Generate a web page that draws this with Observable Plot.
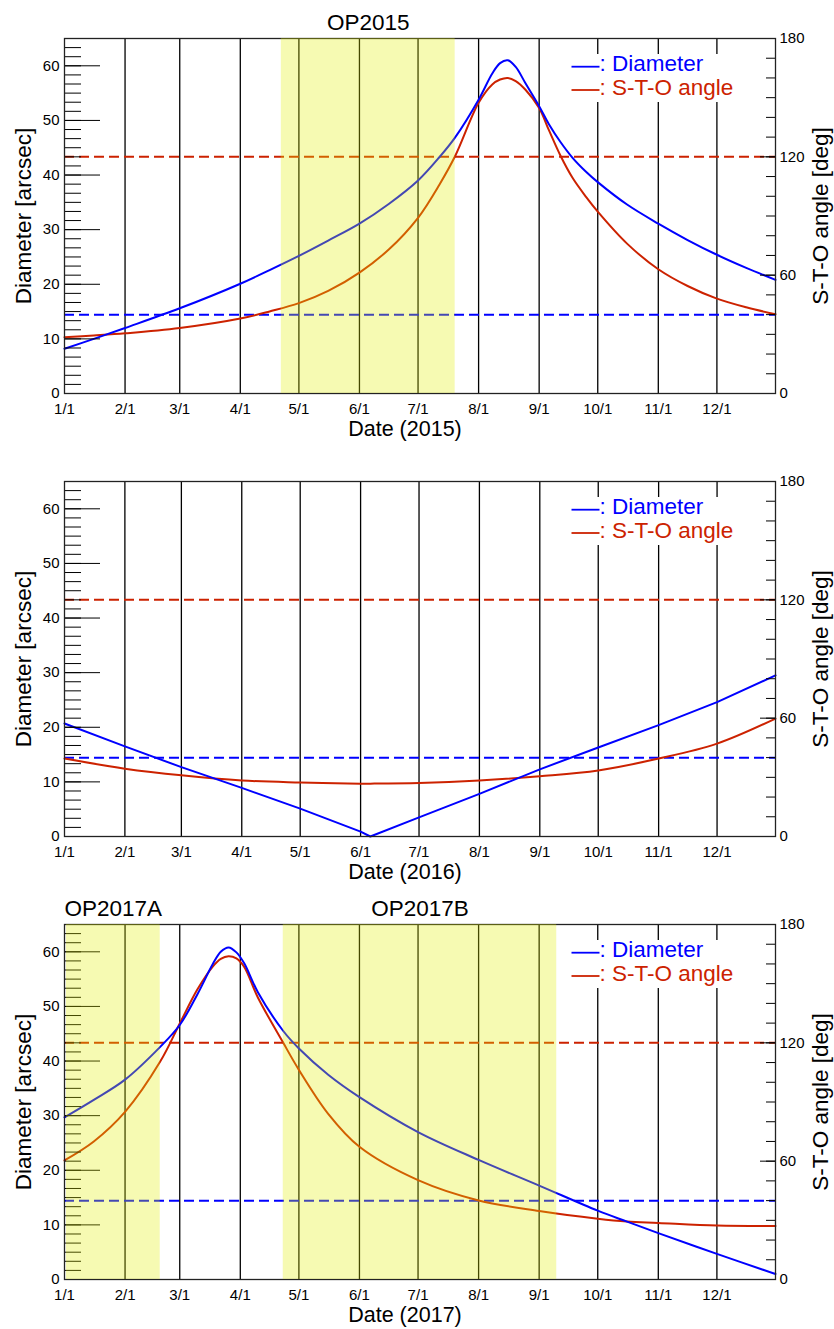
<!DOCTYPE html>
<html>
<head>
<meta charset="utf-8">
<script src="https://cdn.jsdelivr.net/npm/d3@7"></script>
<script src="https://cdn.jsdelivr.net/npm/@observablehq/plot@0.6"></script>
<style>
  body { margin: 0; background: #fff; }
  #charts { width: 834px; }
  #charts svg { display: block; }
</style>
</head>
<body>
<div id="charts"></div>
<script>
// ---------- data ----------
const dates2015 = ["2015-01-01","2015-01-16","2015-02-01","2015-03-01","2015-04-01","2015-04-16","2015-05-01","2015-05-16","2015-06-01","2015-06-16","2015-07-01","2015-07-12","2015-07-20","2015-08-01","2015-08-08","2015-08-12","2015-08-16","2015-08-20","2015-08-25","2015-09-01","2015-09-06","2015-09-12","2015-09-18","2015-09-25","2015-10-01","2015-10-16","2015-11-01","2015-11-16","2015-12-01","2015-12-16","2015-12-31"];
const diameter2015 = [8.2,10.0,12.0,15.6,20.1,22.6,25.2,28.0,31.1,34.7,39.0,43.3,46.9,53.8,58.6,60.5,61.0,59.8,56.8,52.6,49.3,46.0,43.2,40.6,38.7,34.6,31.1,28.1,25.4,23.0,20.8];
const angle2015 = [28.5,29.4,30.5,33.2,38.0,41.6,45.8,52.0,61.3,73.0,89.1,106.0,120.4,147.4,156.7,159.2,160.0,158.4,154.0,144.8,133.5,120.4,109.5,99.7,92.2,76.0,63.0,54.5,48.1,43.7,40.2];

const dates2016 = ["2016-01-01","2016-02-01","2016-03-01","2016-04-01","2016-05-01","2016-06-01","2016-06-06","2016-07-01","2016-08-01","2016-09-01","2016-10-01","2016-11-01","2016-12-01","2016-12-31"];
const diameter2016 = [20.7,16.5,12.7,8.9,5.1,0.9,0.0,3.5,7.8,12.3,16.3,20.4,24.6,29.5];
const angle2016 = [39.5,34.4,31.0,28.4,27.4,26.8,26.8,27.1,28.4,30.6,33.5,39.5,47.1,59.8];

const dates2017 = ["2017-01-01","2017-01-16","2017-02-01","2017-02-19","2017-03-01","2017-03-10","2017-03-18","2017-03-22","2017-03-26","2017-03-30","2017-04-03","2017-04-10","2017-04-23","2017-05-01","2017-05-16","2017-06-01","2017-07-01","2017-08-01","2017-09-01","2017-10-01","2017-10-16","2017-11-01","2017-12-01","2017-12-31"];
const diameter2017 = [29.7,32.9,36.6,42.6,46.6,52.2,57.8,60.0,60.8,59.9,57.9,52.6,45.5,42.3,37.5,33.4,27.0,21.9,17.2,12.6,10.6,8.5,4.7,1.0];
const angle2017 = [60.4,70.0,85.0,110.5,129.8,147.0,158.8,162.6,163.9,162.8,158.5,143.0,120.0,106.3,84.0,67.3,50.4,40.1,34.7,30.8,29.4,28.7,27.4,27.1];

// observation periods
const periodNames2015 = ["OP2015"];
const periodStarts2015 = ["2015-04-22"];
const periodEnds2015 = ["2015-07-20"];
const periodNames2016 = [];
const periodStarts2016 = [];
const periodEnds2016 = [];
const periodNames2017 = ["OP2017A","OP2017B"];
const periodStarts2017 = ["2017-01-02","2017-04-23"];
const periodEnds2017 = ["2017-02-19","2017-09-10"];

// reference levels
const diameterLimit = [14.4];   // arcsec
const angleLimit = [120];       // deg

// axes / ticks
const monthStarts = ["01-01","02-01","03-01","04-01","05-01","06-01","07-01","08-01","09-01","10-01","11-01","12-01"];
const leftTickLabels = [0,10,20,30,40,50,60];
const leftMinorStep = 10/6;
const rightTickLabels = [0,60,120,180];
const rightMinorStep = 10;
const DIAM_MAX = 65;
const ANGLE_MAX = 180;

// ---------- style ----------
const BLUE = "#0000ff";
const RED = "#cc2200";
const YELLOW = "#e0f000";
const FONT = "'Liberation Sans', Arial, Helvetica, sans-serif";

const W = 834, H = 443, mL = 64, mR = 59, mT = 38, mB = 50;
const pw = W - mL - mR;
const toY = a => a * DIAM_MAX / ANGLE_MAX;
const leftMinor = d3.range(0, DIAM_MAX + 0.01, leftMinorStep);
const rightMinor = d3.range(0, ANGLE_MAX + 0.01, rightMinorStep);

function panel(year, dates, diam, angle, names, starts, ends, diamCurve) {
  const rows = dates.map((d, i) => ({date: new Date(d), diameter: diam[i], angle: angle[i]}));
  const periods = names.map((n, i) => ({name: n, start: new Date(starts[i]), end: new Date(ends[i])}));
  const months = monthStarts.map(m => new Date(`${year}-${m}`));
  const plot = Plot.plot({
    width: W, height: H,
    marginLeft: mL, marginRight: mR, marginTop: mT, marginBottom: mB,
    style: {fontFamily: FONT, fontSize: "15px", background: "white", overflow: "visible", color: "#000"},
    x: {type: "utc", domain: [new Date(`${year}-01-01`), new Date(`${year}-12-31`)]},
    y: {domain: [0, DIAM_MAX]},
    marks: [
      Plot.ruleX(months.slice(1), {x: d => d, stroke: "#000", strokeWidth: 1.3}),
      Plot.ruleY(diameterLimit, {y: d => d, stroke: BLUE, strokeWidth: 2, strokeDasharray: "10,5"}),
      Plot.ruleY(angleLimit, {y: d => toY(d), stroke: RED, strokeWidth: 2, strokeDasharray: "10,5"}),
      Plot.line(rows, {x: "date", y: d => toY(d.angle), stroke: RED, strokeWidth: 2, curve: "catmull-rom"}),
      Plot.line(rows, {x: "date", y: "diameter", stroke: BLUE, strokeWidth: 2, curve: diamCurve}),
      Plot.tickY(leftMinor, {y: d => d, stroke: "#000", strokeWidth: 1, insetRight: pw - 17}),
      Plot.tickY(leftTickLabels, {y: d => d, stroke: "#000", strokeWidth: 1, insetRight: pw - 36}),
      Plot.tickY(rightMinor, {y: d => toY(d), stroke: "#000", strokeWidth: 1, insetLeft: pw - 9}),
      Plot.tickY(rightTickLabels, {y: d => toY(d), stroke: "#000", strokeWidth: 1, insetLeft: pw - 15}),
      Plot.frame({stroke: "#222", strokeWidth: 1.3}),
      Plot.axisY({anchor: "left", ticks: leftTickLabels, tickSize: 0, tickPadding: 5, label: null, fontSize: 15}),
      Plot.axisY({anchor: "right", ticks: rightTickLabels.map(toY), tickFormat: d => String(Math.round(d * ANGLE_MAX / DIAM_MAX)), tickSize: 0, tickPadding: 4, label: null, fontSize: 15}),
      Plot.axisX({ticks: months, tickFormat: d3.utcFormat("%-m/%-d"), tickSize: 0, tickPadding: 10, label: null, fontSize: 15}),
      Plot.rect(periods, {x1: "start", x2: "end", fill: YELLOW, fillOpacity: 0.3}),
      Plot.text(periods, {x: d => new Date((+d.start + +d.end) / 2), text: "name", frameAnchor: "top", lineAnchor: "middle", textAnchor: "middle", dy: -16, fontSize: 22.5, fill: "#000"}),
      Plot.text([`Date (${year})`], {text: d => d, frameAnchor: "bottom", lineAnchor: "middle", textAnchor: "middle", dy: 36, dx: -15, fontSize: 21.5, fill: "#000"}),
      Plot.text(["Diameter [arcsec]"], {text: d => d, frameAnchor: "left", textAnchor: "middle", lineAnchor: "middle", rotate: -90, dx: -41, fontSize: 22.5, fill: "#000"}),
      Plot.text(["S-T-O angle [deg]"], {text: d => d, frameAnchor: "right", textAnchor: "middle", lineAnchor: "middle", rotate: -90, dx: 45, fontSize: 22.5, fill: "#000"})
    ]
  });
  // legend
  const svg = d3.select(plot);
  const g = svg.append("g").attr("font-family", FONT).attr("font-size", 22.5).attr("text-anchor", "start");
  g.append("rect").attr("x", 566).attr("y", mT + 16).attr("width", 182).attr("height", 48).attr("fill", "white");
  const items = [{label: ": Diameter", color: BLUE}, {label: ": S-T-O angle", color: RED}];
  items.forEach((it, i) => {
    const base = mT + 33.4 + i * 23.3;
    g.append("line").attr("x1", 571.5).attr("x2", 599.5).attr("y1", base - 4.7).attr("y2", base - 4.7)
      .attr("stroke", it.color).attr("stroke-width", 1.8);
    g.append("text").attr("x", 599.5).attr("y", base).attr("fill", it.color).text(it.label);
  });
  return plot;
}

const root = document.getElementById("charts");
root.appendChild(panel(2015, dates2015, diameter2015, angle2015, periodNames2015, periodStarts2015, periodEnds2015, "catmull-rom"));
root.appendChild(panel(2016, dates2016, diameter2016, angle2016, periodNames2016, periodStarts2016, periodEnds2016, "linear"));
root.appendChild(panel(2017, dates2017, diameter2017, angle2017, periodNames2017, periodStarts2017, periodEnds2017, "catmull-rom"));
</script>
</body>
</html>
